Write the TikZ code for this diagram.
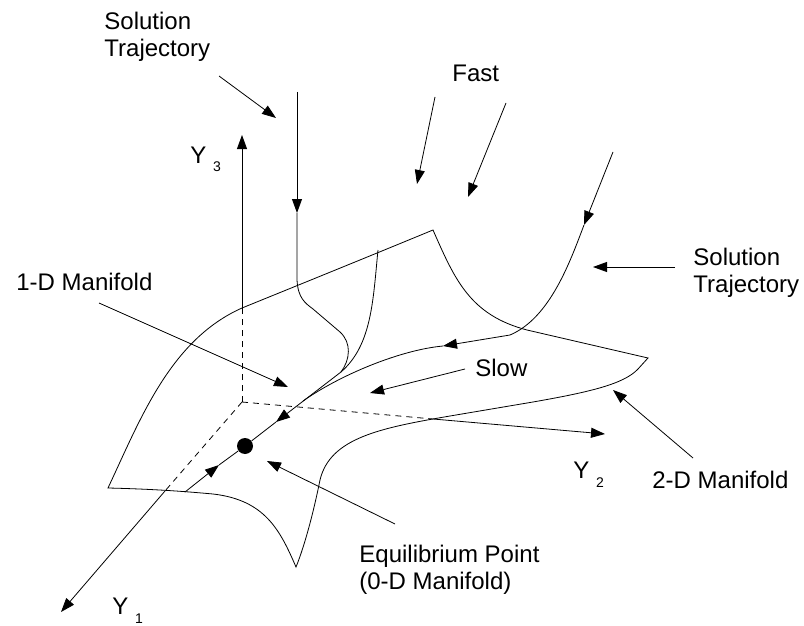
\documentclass[tikz,border=0pt]{standalone}
\usepackage{fontspec}
\setmainfont{Liberation Sans}
\usetikzlibrary{arrows.meta}
\newcommand{\mytwoline}[2]{\vtop{\hbox{#1}\hbox{#2}}}
\begin{document}
\begin{tikzpicture}[x=1pt,y=-1pt, line width=0.8pt,
  tip/.style={-{Triangle[length=14pt,width=10pt]}},
  lbl/.style={inner sep=0pt, anchor=base west, font=\fontsize{24}{27}\selectfont},
  axdash/.style={dash pattern=on 6pt off 5pt}]
\useasboundingbox (0,0) rectangle (804,626);

% axes
\coordinate (O) at (242,402);
\coordinate (Y3j) at (242,308);
\coordinate (Y3t) at (242,135);
\coordinate (Y2j) at (433,419);
\coordinate (Y2t) at (605,434);
\coordinate (Y1j) at (165,491);
\coordinate (Y1t) at (61,612);
\draw[axdash] (O) -- (Y3j);
\draw[tip] (Y3j) -- (Y3t);
\draw[axdash] (O) -- (Y2j);
\draw[tip] (Y2j) -- (Y2t);
\draw[axdash] (O) -- (Y1j);
\draw[tip] (Y1j) -- (Y1t);

% 2-D manifold outline
\draw (108,488) .. controls (140,420) and (170,340) .. (242,308)
  .. controls (306,282) and (370,256) .. (433,230)
  .. controls (455,280) and (470,315) .. (527,330)
  -- (648,358) -- (638,369)
  .. controls (624,384) and (590,392) .. (533,402)
  -- (450,416)
  .. controls (380,428) and (330,438) .. (320,480)
  .. controls (314,510) and (305,545) .. (296,567)
  .. controls (280,530) and (265,500) .. (213,494)
  .. controls (180,491) and (150,489) .. (108,488) -- cycle;

% 1-D manifold and equilibrium point
\node[circle, fill, inner sep=0pt, minimum size=16pt] (eq) at (245,446) {};
\coordinate (B1) at (185,492);
\coordinate (a1) at (219,465);
\coordinate (J) at (341,372);
\coordinate (a2) at (276,422);
\coordinate (M) at (303,401);
\draw[tip] (B1) -- (a1);
\draw (a1) -- (eq);
\draw[tip] (J) -- (a2);
\draw (a2) -- (eq);

% left solution trajectory
\coordinate (T1s) at (297,92);
\coordinate (T1a) at (297,213);
\draw[tip] (T1s) -- (T1a);
\draw (T1a) -- (297,280) .. controls (298,298) and (305,303) .. (313,309)
  -- (340,332) .. controls (352,343) and (350,360) .. (J);
% second fast curve
\coordinate (T2s) at (378,250);
\draw (T2s) .. controls (373,300) and (372,345) .. (J);

% right solution trajectory
\coordinate (T3s) at (613,152);
\coordinate (T3a) at (584,225);
\coordinate (T3b) at (443,346);
\draw[tip] (T3s) -- (T3a);
\draw[tip] (T3a) .. controls (570,262) and (550,318) .. (510,335) -- (T3b);
\draw (T3b) .. controls (400,350) and (340,375) .. (M);

% labels
\node[lbl] (tsol) at (104,30) {\mytwoline{Solution}{Trajectory}};
\node[lbl] (fast) at (452,82) {Fast};
\node[lbl] (y3) at (190,163) {Y \raisebox{-9pt}{\fontsize{14}{14}\selectfont 3}};
\node[lbl] (m1) at (16,290) {1-D Manifold};
\node[lbl] (rsol) at (693,265) {\mytwoline{Solution}{Trajectory}};
\node[lbl] (slow) at (475,376) {Slow};
\node[lbl] (y2) at (573,478) {Y \raisebox{-9pt}{\fontsize{14}{14}\selectfont 2}};
\node[lbl] (m2) at (652,488) {2-D Manifold};
\node[lbl] (eqp) at (359,562) {\mytwoline{Equilibrium Point}{(0-D Manifold)}};
\node[lbl] (y1) at (112,614) {Y \raisebox{-9pt}{\fontsize{14}{14}\selectfont 1}};

% label arrows
\coordinate (L1s) at (219,76);  \coordinate (L1e) at (276,118);
\coordinate (F1s) at (435,97);  \coordinate (F1e) at (417,184);
\coordinate (F2s) at (506,103); \coordinate (F2e) at (468,197);
\coordinate (D1s) at (99,303);  \coordinate (D1e) at (288,387);
\coordinate (S1s) at (465,369); \coordinate (S1e) at (370,393);
\coordinate (R1s) at (675,267); \coordinate (R1e) at (593,267);
\coordinate (D2s) at (693,458); \coordinate (D2e) at (613,390);
\coordinate (E1s) at (395,524); \coordinate (E1e) at (267,461);
\draw[tip] (L1s) -- (L1e);
\draw[tip] (F1s) -- (F1e);
\draw[tip] (F2s) -- (F2e);
\draw[tip] (D1s) -- (D1e);
\draw[tip] (S1s) -- (S1e);
\draw[tip] (R1s) -- (R1e);
\draw[tip] (D2s) -- (D2e);
\draw[tip] (E1s) -- (E1e);
\end{tikzpicture}
\end{document}
